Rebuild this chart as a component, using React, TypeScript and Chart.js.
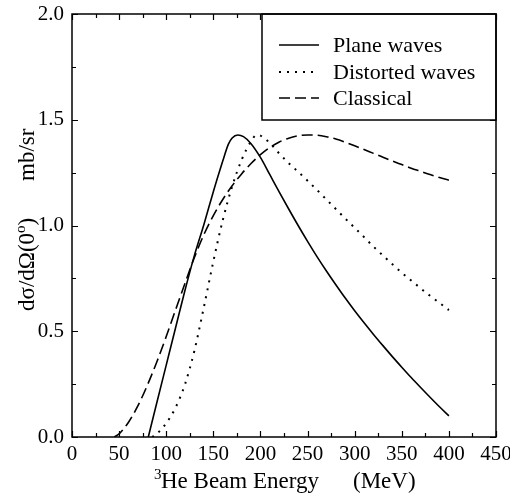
import React, { useEffect, useRef } from "react";
import { Chart, registerables } from "chart.js";

Chart.register(...registerables);

// Beam energy (MeV) and cross section (mb/sr) for each calculation
const planeEnergy = [81, 90, 100, 110, 120, 130, 140, 150, 160, 166, 170, 176, 182, 190, 200, 210, 220, 230, 240, 250, 260, 270, 280, 290, 300, 310, 320, 330, 340, 350, 360, 370, 380, 390, 400];
const planeXsec = [0, 0.162, 0.34, 0.518, 0.695, 0.86, 1.005, 1.16, 1.305, 1.385, 1.414, 1.428, 1.42, 1.387, 1.322, 1.24, 1.158, 1.078, 1.0, 0.925, 0.853, 0.785, 0.72, 0.657, 0.597, 0.54, 0.485, 0.432, 0.38, 0.33, 0.281, 0.234, 0.188, 0.143, 0.10];

const distortedEnergy = [85, 90, 100, 110, 120, 130, 140, 150, 160, 170, 180, 190, 196, 200, 210, 220, 230, 240, 250, 260, 270, 280, 290, 300, 310, 320, 330, 340, 350, 360, 370, 380, 390, 400];
const distortedXsec = [0, 0.015, 0.065, 0.14, 0.25, 0.41, 0.615, 0.83, 1.025, 1.185, 1.31, 1.398, 1.428, 1.425, 1.39, 1.34, 1.295, 1.254, 1.212, 1.168, 1.123, 1.078, 1.033, 0.989, 0.945, 0.90, 0.858, 0.817, 0.777, 0.74, 0.703, 0.668, 0.634, 0.60];

const classicalEnergy = [45, 50, 60, 70, 80, 90, 100, 110, 120, 130, 140, 150, 160, 170, 180, 190, 200, 210, 220, 230, 240, 250, 260, 270, 280, 290, 300, 310, 320, 330, 340, 350, 360, 370, 380, 390, 400];
const classicalXsec = [0, 0.015, 0.07, 0.148, 0.245, 0.355, 0.475, 0.602, 0.728, 0.85, 0.957, 1.047, 1.123, 1.188, 1.244, 1.293, 1.335, 1.369, 1.395, 1.413, 1.424, 1.428, 1.427, 1.42, 1.409, 1.394, 1.377, 1.359, 1.341, 1.323, 1.305, 1.288, 1.271, 1.256, 1.241, 1.227, 1.214];

const seriesLabels = ["Plane waves", "Distorted waves", "Classical"];

const xTicks = [0, 50, 100, 150, 200, 250, 300, 350, 400, 450];
const yTicks = [0, 0.5, 1.0, 1.5, 2.0];

const SERIF = "'Liberation Serif', 'Times New Roman', serif";

const toPoints = (xs: number[], ys: number[]) => xs.map((x, i) => ({ x, y: ys[i] }));

// Frame, inward ticks, axis titles and the boxed legend
const decorations = {
  id: "decorations",
  afterDraw(chart: any) {
    const { ctx, chartArea } = chart;
    const { left, right, top, bottom } = chartArea;
    const xs = chart.scales.x;
    const ys = chart.scales.y;
    ctx.save();
    ctx.strokeStyle = "#000";
    ctx.fillStyle = "#000";

    // minor / major ticks on all four sides
    ctx.lineWidth = 1.2;
    ctx.beginPath();
    for (let v = 0; v <= 450; v += 25) {
      const px = Math.round(xs.getPixelForValue(v)) + 0.5;
      const len = v % 50 === 0 ? 6 : 4;
      ctx.moveTo(px, bottom);
      ctx.lineTo(px, bottom - len);
      ctx.moveTo(px, top);
      ctx.lineTo(px, top + len);
    }
    for (let k = 0; k <= 8; k++) {
      const v = k * 0.25;
      const py = Math.round(ys.getPixelForValue(v)) + 0.5;
      const len = k % 2 === 0 ? 6 : 4;
      ctx.moveTo(left, py);
      ctx.lineTo(left + len, py);
      ctx.moveTo(right, py);
      ctx.lineTo(right - len, py);
    }
    ctx.stroke();

    // legend box
    const boxW = 234;
    const boxH = 106;
    const bx = right - boxW;
    const by = top;
    ctx.fillStyle = "#fff";
    ctx.fillRect(bx, by, boxW, boxH);
    ctx.lineWidth = 1.5;
    ctx.strokeRect(bx, by, boxW, boxH);
    ctx.fillStyle = "#000";
    ctx.font = `22px ${SERIF}`;
    ctx.textBaseline = "middle";
    ctx.textAlign = "left";
    const rows = [31, 58, 84];
    chart.data.datasets.forEach((ds: any, i: number) => {
      const y = by + rows[i];
      ctx.save();
      ctx.lineWidth = ds.borderWidth;
      ctx.setLineDash(ds.borderDash || []);
      ctx.lineCap = ds.borderCapStyle || "butt";
      ctx.beginPath();
      ctx.moveTo(bx + 17, y);
      ctx.lineTo(bx + 57, y);
      ctx.stroke();
      ctx.restore();
      ctx.fillText(ds.label, bx + 71, y + 1);
    });

    // frame
    ctx.lineWidth = 1.5;
    ctx.strokeRect(left, top, right - left, bottom - top);

    // x title with superscript mass number
    ctx.textBaseline = "alphabetic";
    ctx.font = `15px ${SERIF}`;
    ctx.fillText("3", 154, 479);
    ctx.font = `23px ${SERIF}`;
    ctx.fillText("He Beam Energy", 161, 488);
    ctx.fillText("(MeV)", 353, 488);

    // y title, rotated
    ctx.save();
    ctx.translate(34, 311);
    ctx.rotate(-Math.PI / 2);
    ctx.font = `23px ${SERIF}`;
    let cx = 0;
    const part1 = "dσ/dΩ(0";
    ctx.fillText(part1, cx, 0);
    cx += ctx.measureText(part1).width;
    ctx.font = `15px ${SERIF}`;
    ctx.fillText("o", cx, -9);
    cx += ctx.measureText("o").width;
    ctx.font = `23px ${SERIF}`;
    ctx.fillText(")", cx, 0);
    ctx.fillText("mb/sr", 130, 0);
    ctx.restore();

    ctx.restore();
  },
};

export default function App() {
  const canvasRef = useRef<HTMLCanvasElement | null>(null);

  useEffect(() => {
    if (!canvasRef.current) return;
    const chart = new Chart(canvasRef.current, {
      type: "scatter",
      data: {
        datasets: [
          {
            label: seriesLabels[0],
            data: toPoints(planeEnergy, planeXsec),
            showLine: true,
            borderColor: "#000",
            borderWidth: 1.6,
            pointRadius: 0,
            cubicInterpolationMode: "monotone",
          },
          {
            label: seriesLabels[1],
            data: toPoints(distortedEnergy, distortedXsec),
            showLine: true,
            borderColor: "#000",
            borderWidth: 2,
            borderDash: [2, 6],
            pointRadius: 0,
            cubicInterpolationMode: "monotone",
          },
          {
            label: seriesLabels[2],
            data: toPoints(classicalEnergy, classicalXsec),
            showLine: true,
            borderColor: "#000",
            borderWidth: 1.6,
            borderDash: [11, 5],
            pointRadius: 0,
            cubicInterpolationMode: "monotone",
          },
        ],
      },
      options: {
        animation: false,
        responsive: true,
        maintainAspectRatio: false,
        layout: { padding: { left: 0, top: 14, right: 14, bottom: 0 } },
        plugins: {
          legend: { display: false },
          tooltip: { enabled: false },
        },
        scales: {
          x: {
            type: "linear",
            min: 0,
            max: 450,
            grid: { display: false, drawTicks: false },
            border: { display: false },
            afterBuildTicks: (scale: any) => {
              scale.ticks = xTicks.map((value) => ({ value }));
            },
            afterFit: (scale: any) => {
              scale.height = 58;
              scale.paddingLeft = 0;
              scale.paddingRight = 0;
            },
            ticks: {
              color: "#000",
              padding: 5,
              maxRotation: 0,
              autoSkip: false,
              font: { family: SERIF, size: 21 },
              callback: (v: any) => String(v),
            },
          },
          y: {
            type: "linear",
            min: 0,
            max: 2,
            grid: { display: false, drawTicks: false },
            border: { display: false },
            afterBuildTicks: (scale: any) => {
              scale.ticks = yTicks.map((value) => ({ value }));
            },
            afterFit: (scale: any) => {
              scale.width = 72;
              scale.paddingTop = 0;
              scale.paddingBottom = 0;
            },
            ticks: {
              color: "#000",
              padding: 8,
              autoSkip: false,
              font: { family: SERIF, size: 21 },
              callback: (v: any) => Number(v).toFixed(1),
            },
          },
        },
      },
      plugins: [decorations],
    } as any);
    return () => chart.destroy();
  }, []);

  return (
    <div style={{ position: "absolute", left: 0, top: 0, width: 510, height: 495, background: "#fff" }}>
      <canvas ref={canvasRef} />
    </div>
  );
}
